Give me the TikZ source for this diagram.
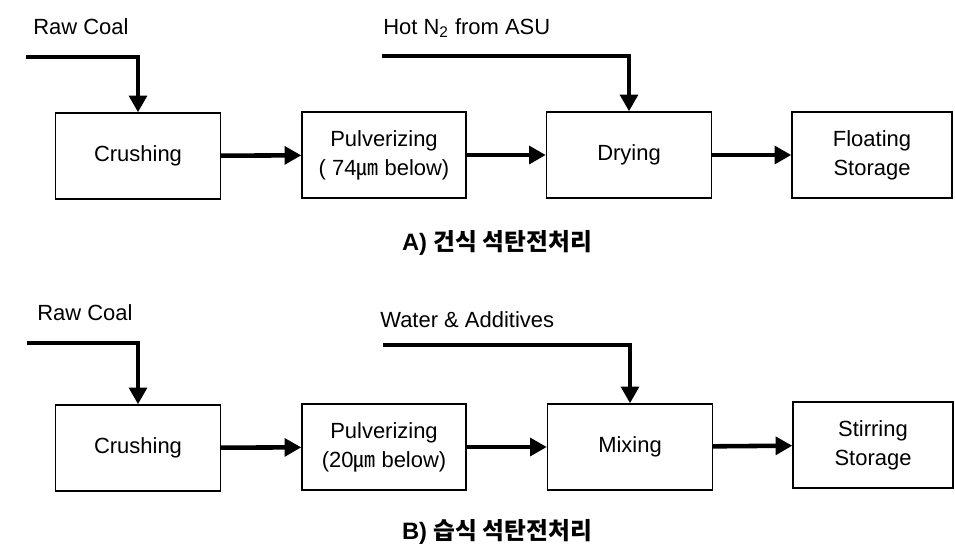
\documentclass[tikz,border=0pt]{standalone}
\usepackage{fontspec}
\setmainfont{Liberation Sans}
\newfontfamily\cjk{Noto Sans CJK KR}
\usetikzlibrary{arrows.meta}

\tikzset{
  stage/.style={draw, line width=0.8pt, fill=white, align=center, minimum width=3.3cm,
    minimum height=1.72cm, inner sep=2pt},
  pipe/.style={line width=2.6pt, -{Triangle[length=9.5pt,width=10pt]}},
  tag/.style={anchor=west, inner sep=0pt},
  caption/.style={inner sep=0pt, font=\fontsize{13.5}{16}\selectfont\bfseries}
}

\begin{document}
\begin{tikzpicture}[x=0.02cm, y=-0.02cm, every node/.style={font=\fontsize{12.5}{16.5}\selectfont}]
  \useasboundingbox (0,0) rectangle (955,545);

  % A) dry route
  \node[tag] (coalA) at (33,27) {Raw Coal};
  \node[tag] (hotn) at (383,28) {Hot N\textsubscript{2} from ASU};
  \coordinate (coalAin) at (26,57);
  \coordinate (hotnin) at (382,56);

  \node[stage] (crushA) at (138,156) {Crushing};
  \node[stage, minimum width=3.28cm] (pulvA) at (384,155) {Pulverizing\\( 74{\cjk ㎛} below)};
  \node[stage] (dry) at (629,155) {Drying};
  \node[stage, minimum width=3.2cm] (storeA) at (872,155) {Floating\\Storage};

  \draw[pipe] (coalAin) -| (crushA.north);
  \draw[pipe] (hotnin) -| (dry.north);
  \draw[pipe] (crushA) -- (pulvA);
  \draw[pipe] (pulvA) -- (dry);
  \draw[pipe] (dry) -- (storeA);

  \node[caption] (capA) at (497,243) {A) {\cjk 건식 석탄전처리}};

  % B) wet route
  \node[tag] (coalB) at (37,313) {Raw Coal};
  \node[tag] (water) at (380,320) {Water \& Additives};
  \coordinate (coalBin) at (27,343);
  \coordinate (waterin) at (383,345);

  \node[stage] (crushB) at (138,448) {Crushing};
  \node[stage, minimum width=3.28cm] (pulvB) at (384,447) {Pulverizing\\(20{\cjk ㎛} below)};
  \node[stage] (mix) at (630,447) {Mixing};
  \node[stage, minimum width=3.2cm] (storeB) at (873,445) {Stirring\\Storage};

  \draw[pipe] (coalBin) -| (crushB.north);
  \draw[pipe] (waterin) -| (mix.north);
  \draw[pipe] (crushB) -- (pulvB);
  \draw[pipe] (pulvB) -- (mix);
  \draw[pipe] (mix) -- (storeB);

  \node[caption] (capB) at (497,532) {B) {\cjk 습식 석탄전처리}};
\end{tikzpicture}
\end{document}
